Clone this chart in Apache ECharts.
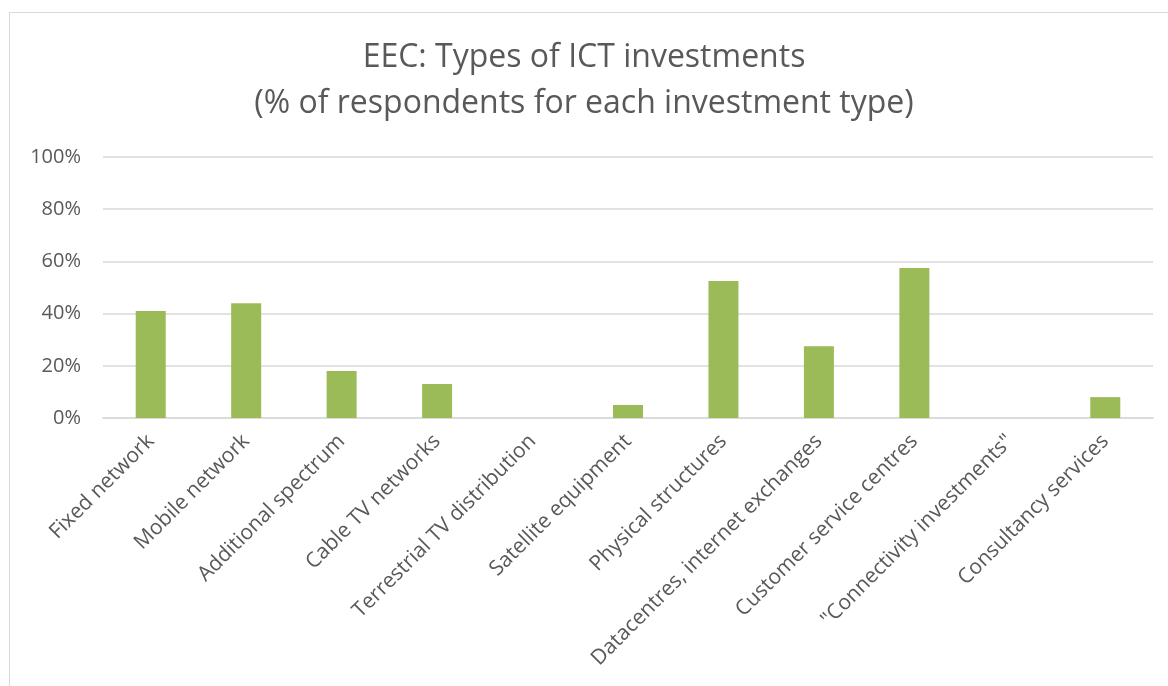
<!DOCTYPE html>
<html>
<head>
<meta charset="utf-8">
<script src="https://cdn.jsdelivr.net/npm/echarts@6/dist/echarts.min.js"></script>
<style>
  html, body { margin: 0; padding: 0; background: #fff; }
  #frame {
    position: absolute; left: 9px; top: 12px; width: 1170px; height: 690px;
    border: 1px solid #d9d9d9; box-sizing: border-box;
  }
  #chart { position: absolute; left: 0; top: 0; width: 1168px; height: 686px; }
</style>
</head>
<body>
<div id="frame"></div>
<div id="chart"></div>
<script>
const categories = [
  'Fixed network',
  'Mobile network',
  'Additional spectrum',
  'Cable TV networks',
  'Terrestrial TV distribution',
  'Satellite equipment',
  'Physical structures',
  'Datacentres, internet exchanges',
  'Customer service centres',
  '"Connectivity investments"',
  'Consultancy services'
];
const shares = [41, 44, 18, 13, 0, 5, 52.5, 27.5, 57.5, 0, 8];
const yTicks = [0, 20, 40, 60, 80, 100];

const chart = echarts.init(document.getElementById('chart'));
const fontFamily = '"Open Sans", sans-serif';

chart.setOption({
  backgroundColor: 'transparent',
  animation: false,
  title: {
    text: 'EEC: Types of ICT investments\n(% of respondents for each investment type)',
    left: 'center',
    top: 30,
    textStyle: {
      color: '#595959',
      fontFamily: fontFamily,
      fontWeight: 'normal',
      fontSize: 32,
      lineHeight: 46
    }
  },
  grid: {
    left: 103,
    right: 15,
    top: 157,
    bottom: 268
  },
  xAxis: {
    type: 'category',
    data: categories,
    axisLine: { lineStyle: { color: '#d9d9d9', width: 1.5 } },
    axisTick: { show: false },
    axisLabel: {
      interval: 0,
      rotate: 45,
      margin: 20,
      color: '#595959',
      fontFamily: fontFamily,
      fontSize: 21
    }
  },
  yAxis: {
    type: 'value',
    min: yTicks[0],
    max: yTicks[yTicks.length - 1],
    interval: 20,
    axisLine: { show: false },
    axisTick: { show: false },
    splitLine: { lineStyle: { color: '#d9d9d9', width: 1.5 } },
    axisLabel: {
      color: '#595959',
      fontFamily: fontFamily,
      fontSize: 20,
      margin: 22,
      formatter: '{value}%'
    }
  },
  series: [
    {
      type: 'bar',
      data: shares,
      barWidth: 30,
      itemStyle: { color: '#9bbb59' }
    }
  ]
});
</script>
</body>
</html>
